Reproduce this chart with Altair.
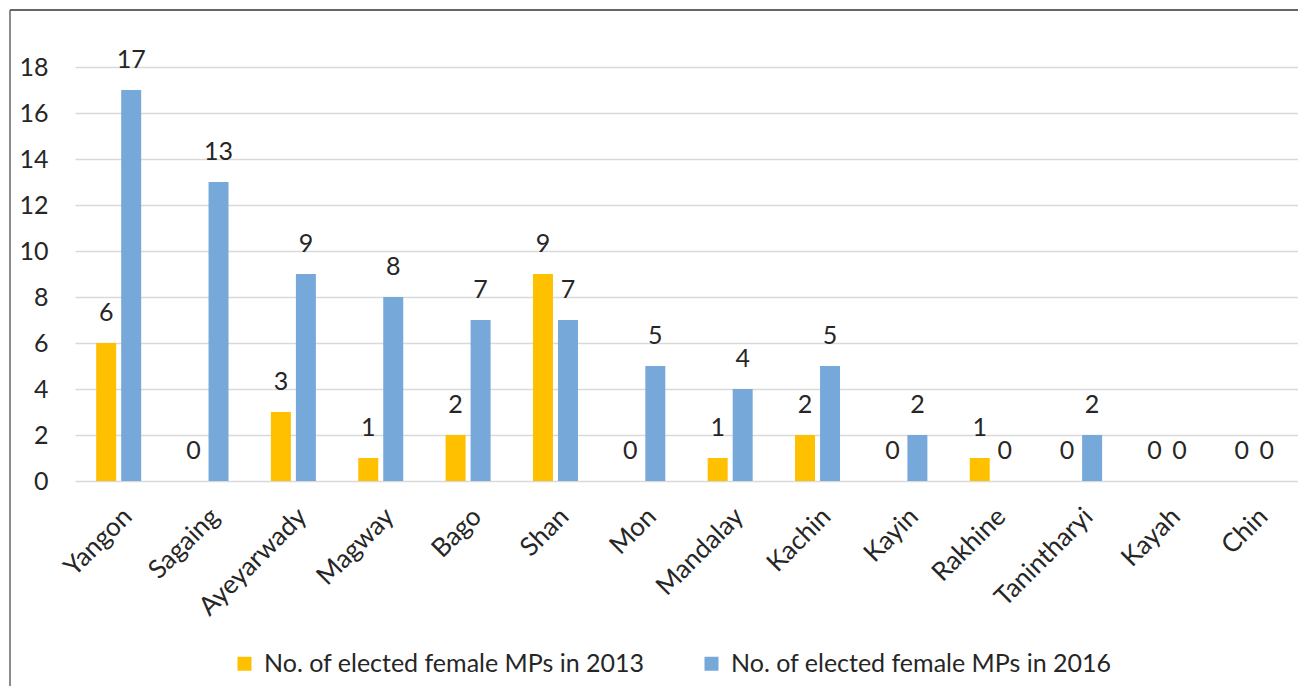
import altair as alt
import pandas as pd

# Female MPs elected per state/region
regions = ["Yangon", "Sagaing", "Ayeyarwady", "Magway", "Bago", "Shan", "Mon",
           "Mandalay", "Kachin", "Kayin", "Rakhine", "Tanintharyi", "Kayah", "Chin"]
mps_2013 = [6, 0, 3, 1, 2, 9, 0, 1, 2, 0, 1, 0, 0, 0]
mps_2016 = [17, 13, 9, 8, 7, 7, 5, 4, 5, 2, 0, 2, 0, 0]
series = ["No. of elected female MPs in 2013", "No. of elected female MPs in 2016"]
colors = ["#FFC000", "#77A8DA"]
y_ticks = [0, 2, 4, 6, 8, 10, 12, 14, 16, 18]

rows = []
for i, r in enumerate(regions):
    rows.append({"region": r, "series": series[0], "mps": mps_2013[i]})
    rows.append({"region": r, "series": series[1], "mps": mps_2016[i]})
df = pd.DataFrame(rows)

W, H = 1223, 414
FONT = "Lato"
TXT = "#262626"

x = alt.X(
    "region:N", sort=regions, title=None,
    scale=alt.Scale(paddingInner=0.485, paddingOuter=0.2425),
    axis=alt.Axis(labelAngle=-45, labelFontSize=26, labelFont=FONT, labelColor=TXT,
                  labelPadding=22, domain=False, ticks=False, labelLimit=0),
)
x_off = alt.XOffset("series:N", sort=series,
                    scale=alt.Scale(paddingInner=0.2, paddingOuter=0))
y = alt.Y(
    "mps:Q", title=None, scale=alt.Scale(domain=[0, 18]),
    axis=alt.Axis(values=y_ticks, grid=True, gridColor="#D9D9D9", gridWidth=1.5,
                  domain=False, ticks=False, labelFontSize=25, labelFont=FONT,
                  labelColor=TXT, labelPadding=27),
)
color = alt.Color(
    "series:N", sort=series, scale=alt.Scale(domain=series, range=colors),
    legend=alt.Legend(orient="none", legendX=157, legendY=584, direction="horizontal",
                      title=None, symbolType="square", symbolSize=196,
                      symbolStrokeWidth=0, labelFontSize=25, labelFont=FONT,
                      labelColor=TXT, columnPadding=54, labelOffset=7, labelLimit=0),
)

bars = alt.Chart(df).mark_bar().encode(x=x, xOffset=x_off, y=y, color=color)
labels = alt.Chart(df).mark_text(dy=-30, baseline="middle", fontSize=25,
                                 font=FONT, color=TXT).encode(
    x=x, xOffset=x_off, y=y, text="mps:Q")

# Outer frame lines (top and left edges of the chart box)
frame = pd.DataFrame({"edge": [0]})
top_edge = alt.Chart(frame).mark_rule(color="#333333", strokeWidth=1.5).encode(
    x=alt.value(-65), x2=alt.value(W + 10), y=alt.value(-57))
left_edge = alt.Chart(frame).mark_rule(color="#666666", strokeWidth=1.5).encode(
    x=alt.value(-65), y=alt.value(-57), y2=alt.value(H + 210))

chart = alt.layer(bars, labels, top_edge, left_edge).properties(
    width=W, height=H,
    autosize=alt.AutoSizeParams(type="none"),
    padding={"left": 75, "top": 67, "right": 0, "bottom": 205},
    background="white",
).configure_view(stroke=None)

chart.save("out.html", embed_options={"renderer": "svg", "actions": False})
